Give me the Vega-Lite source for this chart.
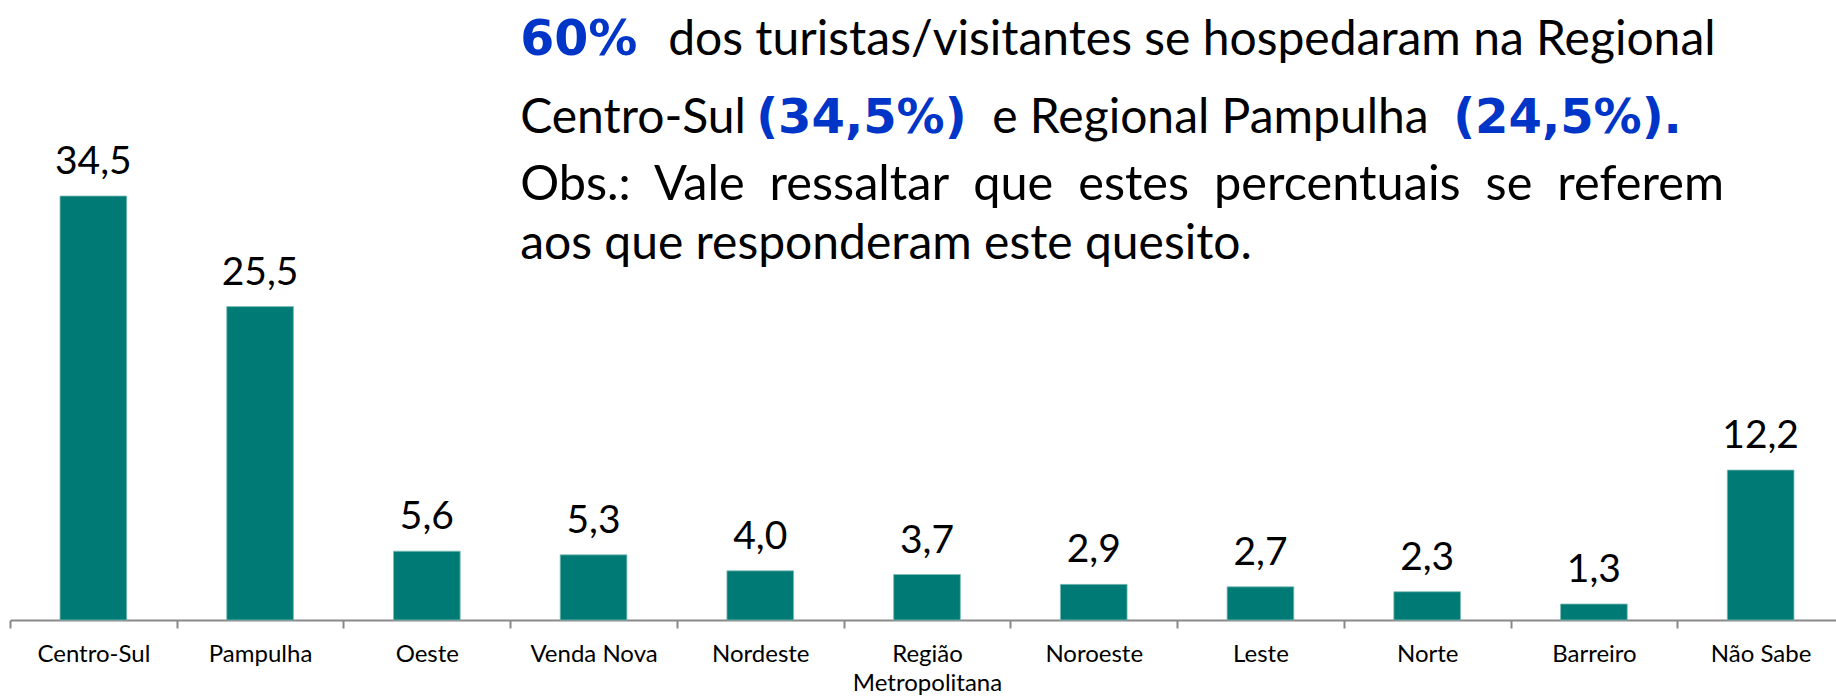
{
  "$schema": "https://vega.github.io/schema/vega-lite/v6.json",
  "width": 1826,
  "height": 620,
  "autosize": "none",
  "padding": {"left": 10, "top": 0, "right": 0, "bottom": 76},
  "background": "white",
  "config": {
    "view": {"stroke": null},
    "font": "Lato",
    "locale": {"number": {"decimal": ",", "thousands": ".", "grouping": [3], "currency": ["R$", ""]}},
    "axisX": {
      "domainColor": "#898989",
      "domainWidth": 2,
      "tickColor": "#898989",
      "tickWidth": 2,
      "tickSize": 8,
      "tickBand": "extent",
      "labelFont": "Lato",
      "labelFontSize": 24,
      "labelColor": "#000000",
      "labelAngle": 0,
      "labelBaseline": "alphabetic",
      "labelPadding": 33,
      "labelLineHeight": 29,
      "labelOverlap": false,
      "labelBound": false
    }
  },
  "layer": [
    {
      "data": {
        "values": [
          {"regional": "Centro-Sul", "pct": 34.5},
          {"regional": "Pampulha", "pct": 25.5},
          {"regional": "Oeste", "pct": 5.6},
          {"regional": "Venda Nova", "pct": 5.3},
          {"regional": "Nordeste", "pct": 4.0},
          {"regional": "Região Metropolitana", "pct": 3.7},
          {"regional": "Noroeste", "pct": 2.9},
          {"regional": "Leste", "pct": 2.7},
          {"regional": "Norte", "pct": 2.3},
          {"regional": "Barreiro", "pct": 1.3},
          {"regional": "Não Sabe", "pct": 12.2}
        ]
      },
      "encoding": {
        "x": {
          "field": "regional",
          "type": "nominal",
          "title": null,
          "scale": {
            "domain": ["Centro-Sul", "Pampulha", "Oeste", "Venda Nova", "Nordeste", "Região Metropolitana", "Noroeste", "Leste", "Norte", "Barreiro", "Não Sabe"],
            "range": [0, 1834],
            "paddingInner": 0,
            "paddingOuter": 0
          },
          "axis": {
            "labelExpr": "datum.value == 'Região Metropolitana' ? ['Região', 'Metropolitana'] : datum.label"
          }
        },
        "y": {
          "field": "pct",
          "type": "quantitative",
          "title": null,
          "scale": {"domain": [0, 50.45], "nice": false, "zero": true},
          "axis": null
        }
      },
      "layer": [
        {
          "mark": {"type": "bar", "width": {"band": 0.4}, "color": "#007A74", "stroke": "#7fbcb7", "strokeWidth": 0.8}
        },
        {
          "mark": {"type": "text", "baseline": "alphabetic", "dy": -22, "fontSize": 39, "font": "Lato", "color": "#000000"},
          "encoding": {"text": {"field": "pct", "type": "quantitative", "format": ".1f"}}
        }
      ]
    },
    {
      "data": {"values": [{"t": "60%"}]},
      "mark": {"type": "text", "align": "left", "baseline": "alphabetic", "dx": 10, "fontSize": 49, "fontWeight": "bold", "font": "DejaVu Sans", "color": "#0035c8"},
      "encoding": {
        "x": {"datum": "Venda Nova", "type": "nominal", "bandPosition": 0, "title": null},
        "y": {"datum": 45.97, "type": "quantitative", "axis": null, "title": null},
        "text": {"field": "t", "type": "nominal"}
      }
    },
    {
      "data": {"values": [{"t": "dos turistas/visitantes se hospedaram na Regional"}]},
      "mark": {"type": "text", "align": "left", "baseline": "alphabetic", "dx": 158, "fontSize": 48, "font": "Lato", "color": "#000000"},
      "encoding": {
        "x": {"datum": "Venda Nova", "type": "nominal", "bandPosition": 0, "title": null},
        "y": {"datum": 45.97, "type": "quantitative", "axis": null, "title": null},
        "text": {"field": "t", "type": "nominal"}
      }
    },
    {
      "data": {"values": [{"t": "Centro-Sul"}]},
      "mark": {"type": "text", "align": "left", "baseline": "alphabetic", "dx": 10, "fontSize": 48, "font": "Lato", "color": "#000000"},
      "encoding": {
        "x": {"datum": "Venda Nova", "type": "nominal", "bandPosition": 0, "title": null},
        "y": {"datum": 39.65, "type": "quantitative", "axis": null, "title": null},
        "text": {"field": "t", "type": "nominal"}
      }
    },
    {
      "data": {"values": [{"t": "(34,5%)"}]},
      "mark": {"type": "text", "align": "left", "baseline": "alphabetic", "dx": 246, "fontSize": 48, "fontWeight": "bold", "font": "DejaVu Sans", "color": "#0035c8"},
      "encoding": {
        "x": {"datum": "Venda Nova", "type": "nominal", "bandPosition": 0, "title": null},
        "y": {"datum": 39.65, "type": "quantitative", "axis": null, "title": null},
        "text": {"field": "t", "type": "nominal"}
      }
    },
    {
      "data": {"values": [{"t": "e Regional Pampulha"}]},
      "mark": {"type": "text", "align": "left", "baseline": "alphabetic", "dx": 482, "fontSize": 48, "font": "Lato", "color": "#000000"},
      "encoding": {
        "x": {"datum": "Venda Nova", "type": "nominal", "bandPosition": 0, "title": null},
        "y": {"datum": 39.65, "type": "quantitative", "axis": null, "title": null},
        "text": {"field": "t", "type": "nominal"}
      }
    },
    {
      "data": {"values": [{"t": "(24,5%)."}]},
      "mark": {"type": "text", "align": "left", "baseline": "alphabetic", "dx": 943, "fontSize": 48, "fontWeight": "bold", "font": "DejaVu Sans", "color": "#0035c8"},
      "encoding": {
        "x": {"datum": "Venda Nova", "type": "nominal", "bandPosition": 0, "title": null},
        "y": {"datum": 39.65, "type": "quantitative", "axis": null, "title": null},
        "text": {"field": "t", "type": "nominal"}
      }
    },
    {
      "data": {"values": [{"t": "Obs.:\u00a0\u00a0Vale\u00a0\u00a0ressaltar\u00a0\u00a0que\u00a0\u00a0estes\u00a0\u00a0percentuais\u00a0\u00a0se\u00a0\u00a0referem"}]},
      "mark": {"type": "text", "align": "left", "baseline": "alphabetic", "dx": 10, "fontSize": 48.7, "font": "Lato", "color": "#000000"},
      "encoding": {
        "x": {"datum": "Venda Nova", "type": "nominal", "bandPosition": 0, "title": null},
        "y": {"datum": 34.18, "type": "quantitative", "axis": null, "title": null},
        "text": {"field": "t", "type": "nominal"}
      }
    },
    {
      "data": {"values": [{"t": "aos que responderam este quesito."}]},
      "mark": {"type": "text", "align": "left", "baseline": "alphabetic", "dx": 10, "fontSize": 48, "font": "Lato", "color": "#000000"},
      "encoding": {
        "x": {"datum": "Venda Nova", "type": "nominal", "bandPosition": 0, "title": null},
        "y": {"datum": 29.38, "type": "quantitative", "axis": null, "title": null},
        "text": {"field": "t", "type": "nominal"}
      }
    }
  ]
}
